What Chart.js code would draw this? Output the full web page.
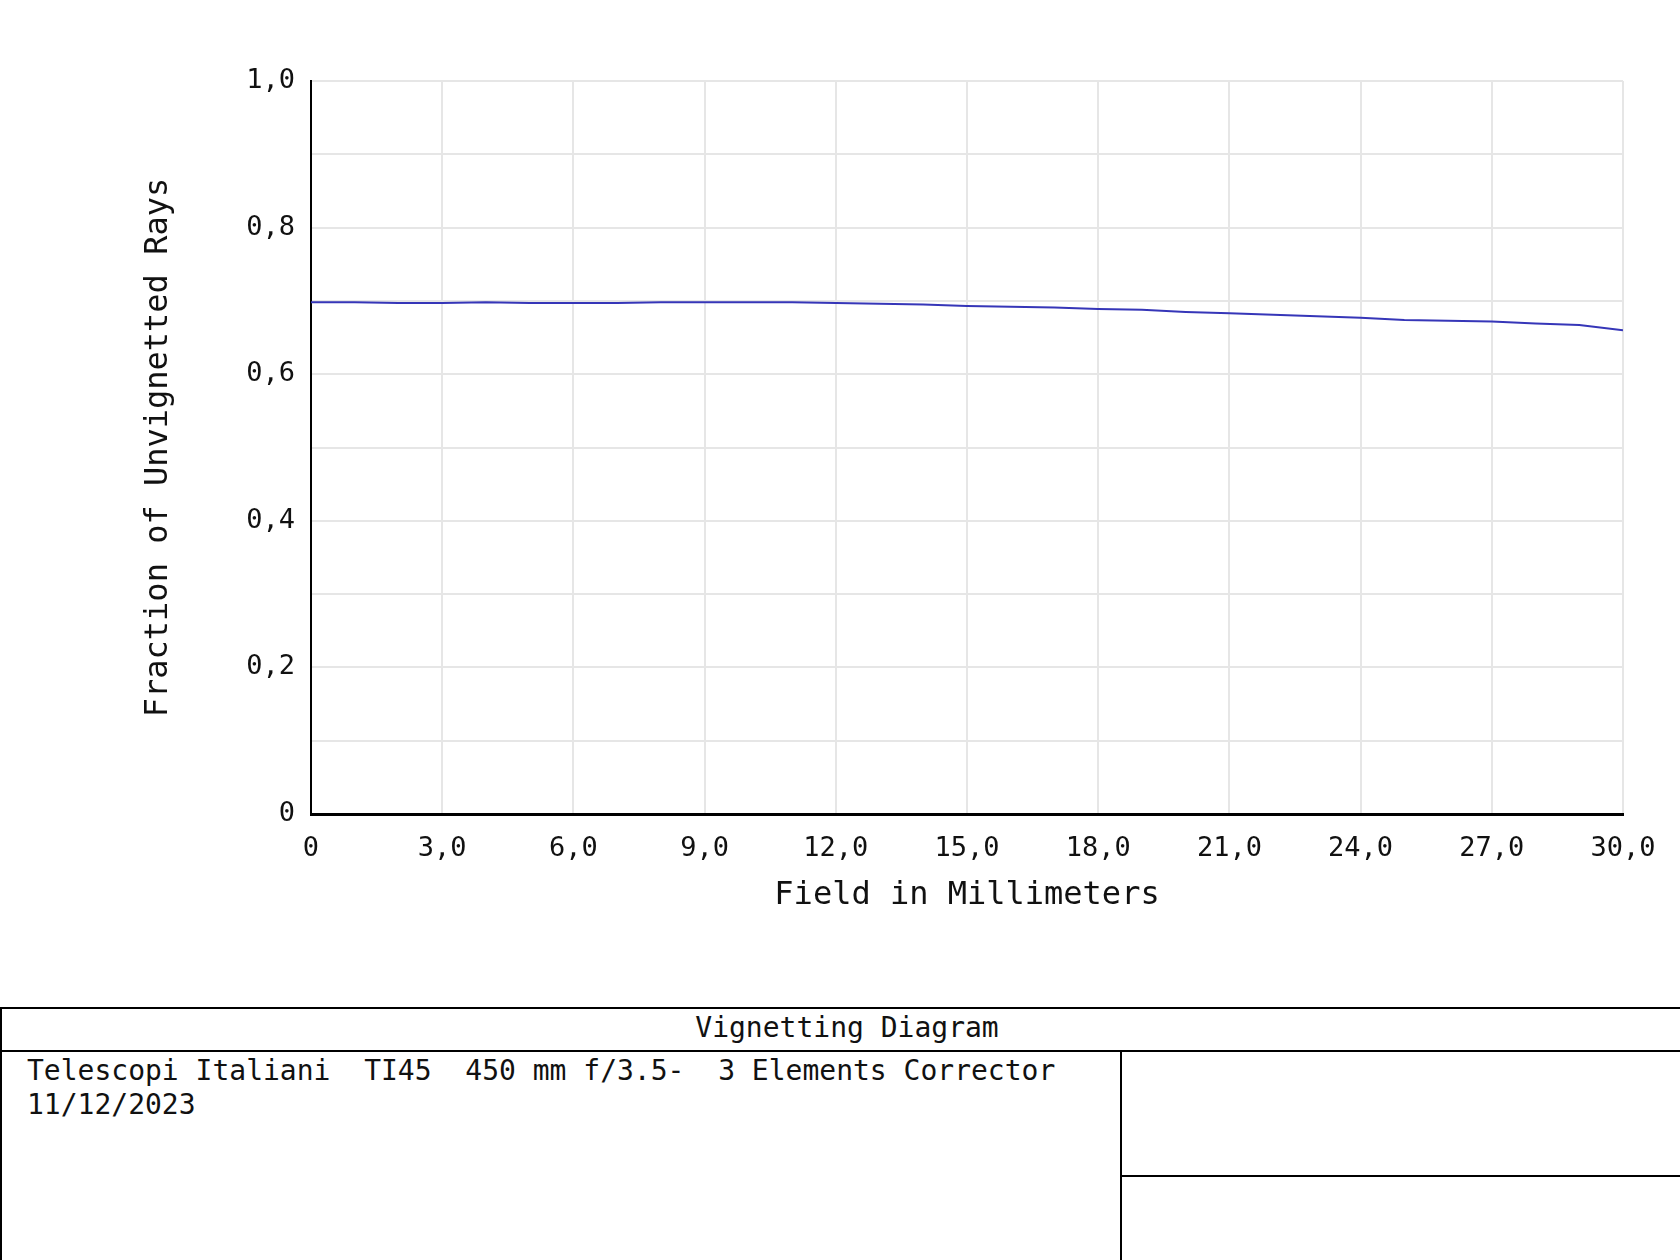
<!DOCTYPE html>
<html>
<head>
<meta charset="utf-8">
<script src="https://cdn.jsdelivr.net/npm/chart.js@4"></script>
<style>
  html, body { margin: 0; padding: 0; background: #fff; }
  body { width: 1680px; height: 1260px; position: relative; overflow: hidden; }
  #wrap { position: absolute; left: 0; top: 0; width: 1680px; height: 1000px; }
  .box { position: absolute; font-family: "DejaVu Sans Mono", monospace; font-size: 28px; color: #111; }
  #head { left: 0; top: 1007px; width: 1690px; height: 41px; border: 2px solid #000; border-right: none; text-align: center; line-height: 38px; }
  #main { left: 0; top: 1050px; width: 1122px; height: 220px; border-left: 2px solid #000; border-right: 2px solid #000; padding: 4px 0 0 25px; box-sizing: border-box; line-height: 34px; white-space: pre; }
  #side { left: 1122px; top: 1175px; width: 600px; height: 2px; background: #000; }
</style>
</head>
<body>
<div id="wrap"><canvas id="chart" width="1680" height="1000"></canvas></div>
<div class="box" id="head">Vignetting Diagram</div>
<div class="box" id="main">Telescopi Italiani  TI45  450 mm f/3.5-  3 Elements Corrector
11/12/2023</div>
<div class="box" id="side"></div>
<script>
// ── Données ───────────────────────────────────────────────────
const fieldMm = [0, 1, 2, 3, 4, 5, 6, 7, 8, 9, 10, 11, 12, 13, 14, 15, 16, 17, 18, 19, 20, 21, 22, 23, 24, 25, 26, 27, 28, 29, 30];
const unvignetted = [0.698, 0.698, 0.697, 0.697, 0.698, 0.697, 0.697, 0.697, 0.698, 0.698, 0.698, 0.698, 0.697, 0.696, 0.695, 0.693,
  0.692, 0.691, 0.689, 0.688, 0.685, 0.683, 0.681, 0.679, 0.677, 0.674, 0.673, 0.672, 0.669, 0.667, 0.660];
const xTickStep = 3;
const yTickStep = 0.1;

const MONO = '"DejaVu Sans Mono", monospace';

function comma(v, digits) {
  return v === 0 ? '0' : v.toFixed(digits).replace('.', ',');
}

const points = fieldMm.map((x, i) => ({ x, y: unvignetted[i] }));

new Chart(document.getElementById('chart'), {
  type: 'line',
  data: {
    datasets: [{
      data: points,
      borderColor: '#3636b8',
      borderWidth: 2,
      pointRadius: 0,
      tension: 0,
      fill: false,
    }],
  },
  options: {
    responsive: false,
    animation: false,
    events: [],
    layout: { padding: { left: 120, top: 81, right: 57, bottom: 80 } },
    plugins: { legend: { display: false }, tooltip: { enabled: false } },
    scales: {
      x: {
        type: 'linear',
        min: 0,
        max: 30,
        afterFit(s) { s.height = 106; },
        grid: { color: '#e6e6e6', lineWidth: 2, drawTicks: false },
        border: { color: '#000', width: 3 },
        ticks: {
          stepSize: xTickStep,
          padding: 19,
          maxRotation: 0,
          autoSkip: false,
          color: '#111',
          font: { family: MONO, size: 27 },
          callback: v => comma(v, 1),
        },
        title: {
          display: true,
          text: 'Field in Millimeters',
          color: '#111',
          font: { family: MONO, size: 32 },
          padding: { top: 0, bottom: 5 },
        },
      },
      y: {
        min: 0,
        max: 1,
        afterFit(s) { s.width = 191; },
        grid: { color: '#e6e6e6', lineWidth: 2, drawTicks: false },
        border: { color: '#000', width: 2 },
        ticks: {
          stepSize: yTickStep,
          padding: 16,
          autoSkip: false,
          color: '#111',
          font: { family: MONO, size: 27 },
          callback: v => (Math.round(v * 10) % 2 === 0 ? comma(v, 1) : ''),
        },
        title: {
          display: true,
          text: 'Fraction of Unvignetted Rays',
          color: '#111',
          font: { family: MONO, size: 32 },
          padding: { top: 19, bottom: 0 },
        },
      },
    },
  },
});
</script>
</body>
</html>
